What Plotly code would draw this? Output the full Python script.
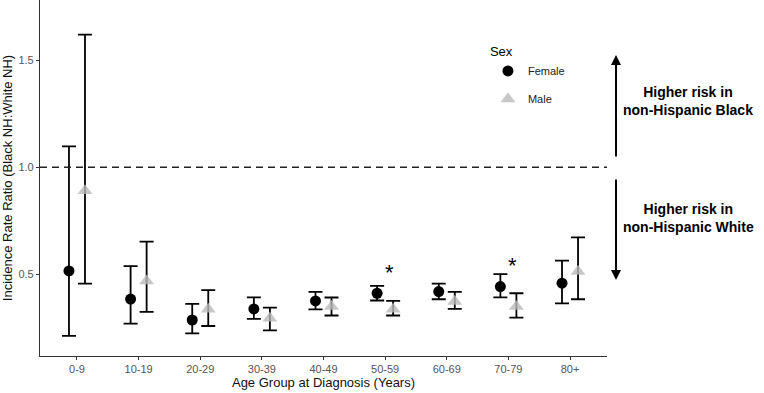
import plotly.graph_objects as go

age_groups = ["0-9", "10-19", "20-29", "30-39", "40-49", "50-59", "60-69", "70-79", "80+"]
female_irr = [0.516, 0.385, 0.287, 0.339, 0.376, 0.412, 0.420, 0.443, 0.459]
female_lo = [0.213, 0.270, 0.225, 0.292, 0.337, 0.378, 0.384, 0.393, 0.365]
female_hi = [1.098, 0.539, 0.362, 0.393, 0.418, 0.446, 0.457, 0.501, 0.564]
male_irr = [0.891, 0.469, 0.337, 0.295, 0.350, 0.337, 0.373, 0.350, 0.513]
male_lo = [0.457, 0.325, 0.259, 0.239, 0.308, 0.308, 0.339, 0.298, 0.384]
male_hi = [1.619, 0.653, 0.427, 0.345, 0.392, 0.376, 0.418, 0.412, 0.673]
sig_groups = ["50-59", "70-79"]
sig_label_y = [0.507, 0.540]

FONT = "Liberation Sans, Arial, sans-serif"
DODGE = 0.13
idx = list(range(len(age_groups)))

fig = go.Figure()

def add_series(name, vals, lo, hi, offset, marker, group):
    xs = [i + offset for i in idx]
    fig.add_trace(go.Scatter(
        x=xs, y=vals, mode="markers", name=name, legendgroup=group,
        marker=marker,
        error_y=dict(type="data", symmetric=False,
                     array=[h - v for h, v in zip(hi, vals)],
                     arrayminus=[v - l for v, l in zip(vals, lo)],
                     color="black", thickness=1.8, width=7),
    ))

add_series("Female", female_irr, female_lo, female_hi, -DODGE,
           dict(symbol="circle", size=11, color="black"), "f")
add_series("Male", male_irr, male_lo, male_hi, DODGE,
           dict(symbol="triangle-up", size=13, color="rgba(185,185,185,0.8)"), "m")

# reference line at ratio 1
fig.add_shape(type="line", xref="paper", yref="y", x0=0, x1=1, y0=1, y1=1,
              line=dict(color="#222222", width=1.6, dash="7px,5px"))

# significance markers
for g, yv in zip(sig_groups, sig_label_y):
    fig.add_annotation(x=age_groups.index(g), y=yv, xref="x", yref="y", text="*",
                       showarrow=False, xshift=4, font=dict(family=FONT, size=22, color="black"))

# direction arrows and labels
ARROW_X = 1.0159
fig.add_annotation(x=ARROW_X, y=1.524, xref="paper", yref="y", ax=0, ay=1.043,
                   axref="pixel", ayref="y", showarrow=True, arrowhead=2, arrowsize=1,
                   arrowwidth=2, arrowcolor="black", text="")
fig.add_annotation(x=ARROW_X, y=0.474, xref="paper", yref="y", ax=0, ay=0.950,
                   axref="pixel", ayref="y", showarrow=True, arrowhead=2, arrowsize=1,
                   arrowwidth=2, arrowcolor="black", text="")
fig.add_annotation(x=1.1429, y=1.3075, xref="paper", yref="y", showarrow=False,
                   xanchor="center", yanchor="middle",
                   text="<b>Higher risk in<br>non-Hispanic Black</b>",
                   font=dict(family=FONT, size=14, color="black"), align="center")
fig.add_annotation(x=1.1429, y=0.763, xref="paper", yref="y", showarrow=False,
                   xanchor="center", yanchor="middle",
                   text="<b>Higher risk in<br>non-Hispanic White</b>",
                   font=dict(family=FONT, size=14, color="black"), align="center")

fig.update_layout(
    width=764, height=393,
    margin=dict(l=40, r=157, t=0, b=37),
    paper_bgcolor="white", plot_bgcolor="white",
    font=dict(family=FONT, color="black"),
    showlegend=True,
    legend=dict(title=dict(text="Sex", font=dict(size=13, color="black")),
                x=0.79, y=0.889, xanchor="left", yanchor="top",
                font=dict(size=11, color="#222222"), tracegroupgap=9,
                bgcolor="rgba(0,0,0,0)"),
    xaxis=dict(range=[-0.6, len(age_groups) - 0.4], tickmode="array", tickvals=idx,
               ticktext=age_groups, showgrid=False, zeroline=False,
               showline=True, linecolor="#333333", linewidth=1.2,
               ticks="outside", ticklen=3, tickcolor="#333333",
               tickfont=dict(size=11, color="#555555"),
               title=dict(text="Age Group at Diagnosis (Years)", standoff=2,
                          font=dict(size=13, color="#111111")),
               automargin=False),
    yaxis=dict(range=[0.119, 1.781], tickvals=[0.5, 1.0, 1.5], tickformat=".1f",
               showgrid=False, zeroline=False,
               showline=True, linecolor="#333333", linewidth=1.2,
               ticks="outside", ticklen=3, tickcolor="#333333",
               tickfont=dict(size=11, color="#555555"),
               title=dict(text="Incidence Rate Ratio (Black NH:White NH)", standoff=4,
                          font=dict(size=13, color="#111111")),
               automargin=False),
)

fig.write_html("out.html")
